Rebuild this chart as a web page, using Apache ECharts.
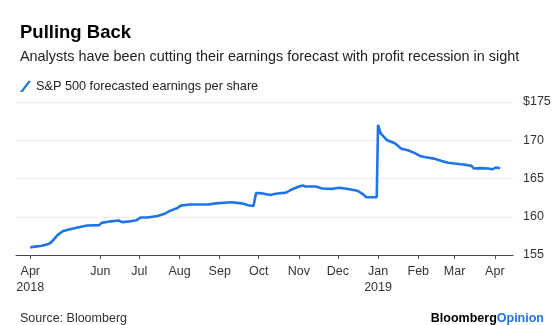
<!DOCTYPE html>
<html>
<head>
<meta charset="utf-8">
<style>
html,body{margin:0;padding:0;background:#fff;}
#chart{width:560px;height:325px;}
</style>
<script src="https://cdn.jsdelivr.net/npm/echarts@6/dist/echarts.min.js"></script>
</head>
<body>
<div id="chart"></div>
<script>
// Data (date, forecasted EPS)
var dates = [
  '2018-04-08','2018-04-12','2018-04-17','2018-04-20','2018-04-23','2018-04-26','2018-04-29',
  '2018-05-03','2018-05-07','2018-05-12','2018-05-17','2018-05-22','2018-05-31',
  '2018-06-02','2018-06-09','2018-06-15','2018-06-18','2018-06-24','2018-06-29',
  '2018-07-02','2018-07-07','2018-07-15','2018-07-20','2018-07-25','2018-07-30',
  '2018-08-02','2018-08-09','2018-08-23','2018-08-29',
  '2018-09-10','2018-09-18','2018-09-23','2018-09-27','2018-09-29',
  '2018-10-04','2018-10-10','2018-10-14','2018-10-22','2018-10-27',
  '2018-11-01','2018-11-04','2018-11-06','2018-11-14','2018-11-19','2018-11-27',
  '2018-12-02','2018-12-10','2018-12-16','2018-12-20','2018-12-23','2018-12-31',
  '2019-01-01','2019-01-03','2019-01-08','2019-01-14','2019-01-19','2019-01-24','2019-01-29',
  '2019-02-03','2019-02-08','2019-02-13','2019-02-19','2019-02-24',
  '2019-03-01','2019-03-09','2019-03-14','2019-03-16','2019-03-21','2019-03-27','2019-03-30',
  '2019-04-02','2019-04-05'
];
var eps = [
  156.0,156.1,156.2,156.35,156.5,157.0,157.6,
  158.1,158.3,158.5,158.7,158.85,158.9,
  159.2,159.4,159.5,159.3,159.4,159.55,
  159.9,159.9,160.1,160.35,160.8,161.1,
  161.45,161.6,161.6,161.75,
  161.9,161.75,161.5,161.4,163.1,
  163.05,162.85,163.0,163.15,163.6,
  163.95,164.1,163.95,163.95,163.7,163.65,
  163.8,163.6,163.4,163.0,162.55,162.55,
  172.0,170.9,170.0,169.6,168.9,168.7,168.35,
  167.9,167.75,167.6,167.3,167.05,
  166.95,166.8,166.65,166.3,166.35,166.3,166.2,
  166.45,166.35
];
var tickDates = ['2018-04-08','2018-06-01','2018-07-01','2018-08-01','2018-09-01','2018-10-01',
  '2018-11-01','2018-12-01','2019-01-01','2019-02-01','2019-03-01','2019-04-01'];
var tickLabels = ['Apr\n2018','Jun','Jul','Aug','Sep','Oct','Nov','Dec','Jan\n2019','Feb','Mar','Apr'];
var axisStart = '2018-03-28';
var axisEnd = '2019-04-15';

function ts(s){ var p = s.split('-'); return Date.UTC(+p[0], +p[1]-1, +p[2]); }
var tickTs = tickDates.map(ts);
var labelMap = {};
tickTs.forEach(function(t,i){ labelMap[t] = tickLabels[i]; });
var seriesData = dates.map(function(d,i){ return [ts(d), eps[i]]; });

var font = '"Liberation Sans", Arial, Helvetica, sans-serif';
var chart = echarts.init(document.getElementById('chart'), null, {renderer:'canvas'});
chart.setOption({
  animation:false,
  backgroundColor:'#fff',
  textStyle:{fontFamily:font},
  title:[
    {text:'Pulling Back', left:15, top:18, textStyle:{fontFamily:font, fontSize:18.5, fontWeight:'bold', color:'#000'}},
    {text:'Analysts have been cutting their earnings forecast with profit recession in sight', left:15, top:45,
      textStyle:{fontFamily:font, fontSize:14.4, fontWeight:'normal', color:'#222'}},
    {text:'Source: Bloomberg', left:15, top:307, textStyle:{fontFamily:font, fontSize:12.5, fontWeight:'normal', color:'#333'}},
    {text:'{a|Bloomberg}{b|Opinion}', right:11, top:307,
      textStyle:{rich:{
        a:{fontFamily:font, fontSize:12.5, fontWeight:'bold', color:'#000'},
        b:{fontFamily:font, fontSize:12.5, fontWeight:'bold', color:'#1f74e6'}
      }}}
  ],
  legend:{
    left:15, top:75, itemWidth:11, itemHeight:11, itemGap:6,
    icon:'path://M0,11 L2.8,11 L11,0 L8.2,0 Z',
    textStyle:{fontFamily:font, fontSize:12.7, color:'#222'},
    data:['S&P 500 forecasted earnings per share']
  },
  grid:{left:16, right:47, top:102, bottom:70, containLabel:false},
  xAxis:{
    type:'value',
    min:ts(axisStart), max:ts(axisEnd),
    axisLine:{show:true, onZero:false, lineStyle:{color:'#444', width:1}},
    axisTick:{show:true, length:4, customValues:tickTs, lineStyle:{color:'#555'}},
    axisLabel:{customValues:tickTs, margin:9, fontFamily:font, fontSize:12.5, color:'#333', lineHeight:15.5,
      formatter:function(v){ return labelMap[v] || ''; }},
    splitLine:{show:false}
  },
  yAxis:{
    type:'value', position:'right', min:155, max:175, interval:5,
    axisLine:{show:false}, axisTick:{show:false},
    axisLabel:{margin:10, fontFamily:font, fontSize:12.5, color:'#333',
      formatter:function(v){ return v === 175 ? '$175' : String(v); }},
    splitLine:{show:true, lineStyle:{color:'#ececec', width:1}}
  },
  series:[{
    name:'S&P 500 forecasted earnings per share',
    type:'line', data:seriesData, showSymbol:false, symbol:'none',
    lineStyle:{color:'#1f74e6', width:2.6}, itemStyle:{color:'#1f74e6'}
  }]
});
</script>
</body>
</html>
